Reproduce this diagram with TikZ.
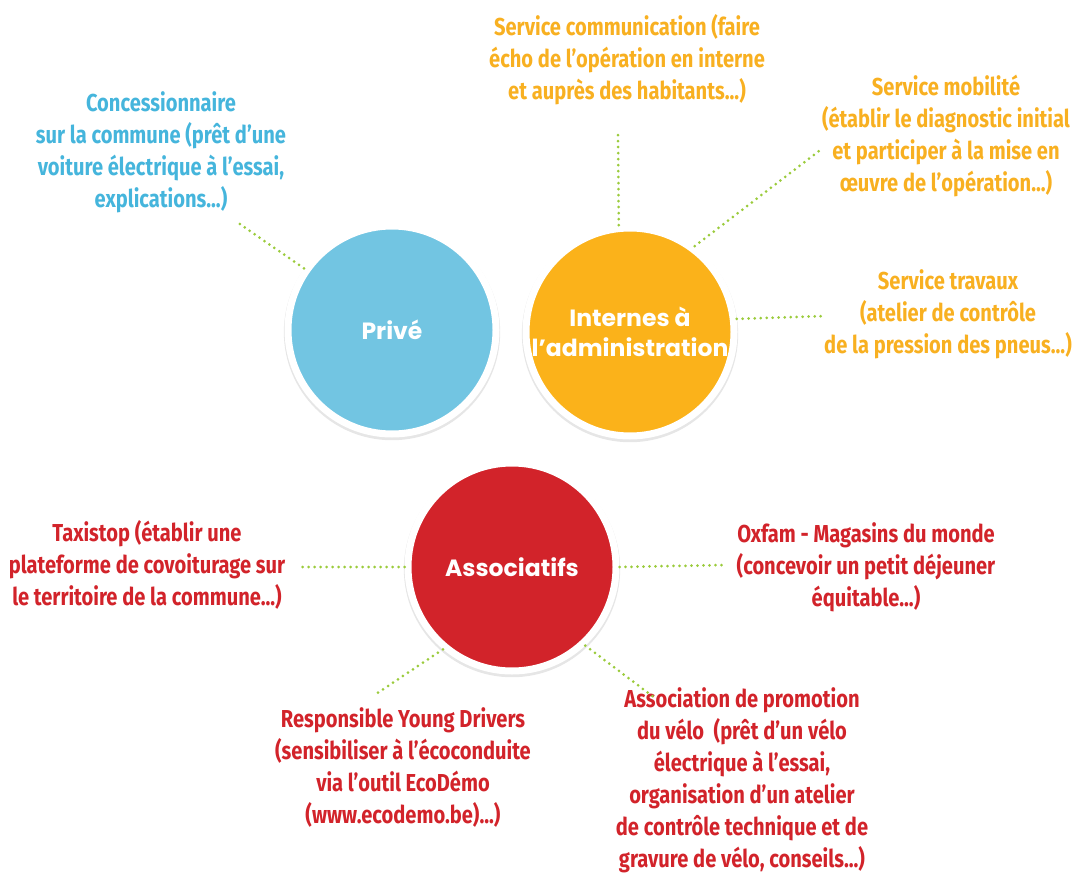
\documentclass[tikz,border=0pt]{standalone}
\usepackage{fontspec}
\usepackage{tikz}
\usetikzlibrary{shadows}
\newfontfamily\condfont[FakeStretch=0.82]{Fira Sans}
\newfontfamily\roundfont{Poppins}
\definecolor{priveblue}{HTML}{72C5E2}
\definecolor{priveink}{HTML}{45B5DC}
\definecolor{adminorange}{HTML}{FBB21A}
\definecolor{adminink}{HTML}{F8B021}
\definecolor{assocred}{HTML}{D2232A}
\definecolor{dotgreen}{HTML}{9BCB3C}
\tikzset{
  pole/.style={circle, minimum size=208pt, inner sep=0pt, draw=white, line width=7pt,
    drop shadow={opacity=0.2, shadow xshift=0pt, shadow yshift=-2pt, shadow scale=1.04},
    text=white, align=center, font=\roundfont\bfseries\fontsize{23.5}{30}\selectfont},
  note/.style={align=center, font=\condfont\bfseries\fontsize{24.5}{32}\selectfont},
  dots/.style={dotgreen, line width=3pt, line cap=round, dash pattern=on 0pt off 6pt}
}
\begin{document}
\begin{tikzpicture}[x=1pt, y=-1pt]
\useasboundingbox (0,0) rectangle (1075,874);

% les trois poles
\node[pole, fill=priveblue] (prive) at (392,330) {Privé};
\node[pole, fill=adminorange] (admin) at (630,332) {Internes à\\l’administration};
\node[pole, fill=assocred] (assoc) at (512,567) {Associatifs};

% textes
\node[note, text=priveink] (concess) at (161,152)
  {Concessionnaire\\sur la commune (prêt d’une\\voiture électrique à l’essai,\\explications...)};
\node[note, text=adminink] (comm) at (627,60)
  {Service communication (faire\\écho de l’opération en interne\\et auprès des habitants...)};
\node[note, text=adminink] (mobil) at (946,136)
  {Service mobilité\\(établir le diagnostic initial\\et participer à la mise en\\œuvre de l’opération...)};
\node[note, text=adminink] (travaux) at (948,314)
  {Service travaux\\(atelier de contrôle\\de la pression des pneus...)};
\node[note, text=assocred] (taxi) at (147,565)
  {Taxistop (établir une\\plateforme de covoiturage sur\\le territoire de la commune...)};
\node[note, text=assocred] (oxfam) at (866,567)
  {Oxfam - Magasins du monde\\(concevoir un petit déjeuner\\équitable...)};
\node[note, text=assocred] (young) at (403,768)
  {Responsible Young Drivers\\(sensibiliser à l’écoconduite\\via l’outil EcoDémo\\(www.ecodemo.be)...)};
\node[note, text=assocred] (velo) at (742,780)
  {Association de promotion\\du vélo\ \ (prêt d’un vélo\\électrique à l’essai,\\organisation d’un atelier\\de contrôle technique et de\\gravure de vélo, conseils...)};

% bouts libres des pointilles
\coordinate (e1) at (237,222);
\coordinate (e2) at (618,135);
\coordinate (e3) at (819,151);
\coordinate (e4) at (826,316);
\coordinate (e5) at (302,567);
\coordinate (e6) at (725,565);
\coordinate (e7) at (376,694);
\coordinate (e8) at (655,698);

\draw[dots] (prive.145) -- (e1);
\draw[dots] (admin.96) -- (e2);
\draw[dots] (admin.53) -- (e3);
\draw[dots] (admin.7) -- (e4);
\draw[dots] (assoc.180) -- (e5);
\draw[dots] (assoc.0) -- (e6);
\draw[dots] (assoc.230) -- (e7);
\draw[dots] (assoc.313) -- (e8);
\end{tikzpicture}
\end{document}
